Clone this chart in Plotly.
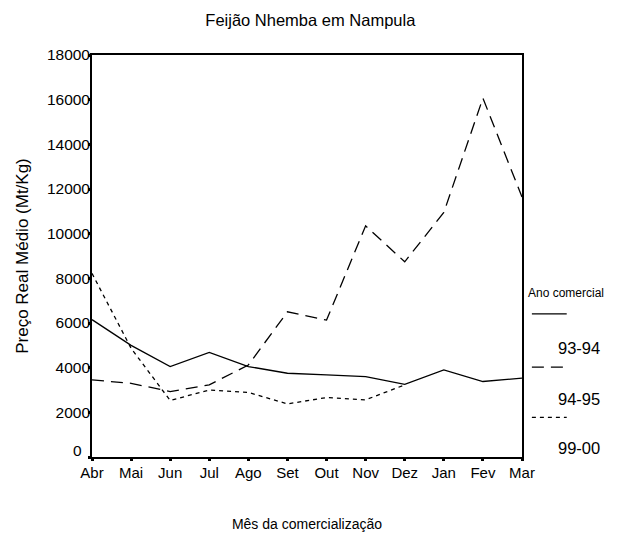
import plotly.graph_objects as go

months = ["Abr", "Mai", "Jun", "Jul", "Ago", "Set", "Out", "Nov", "Dez", "Jan", "Fev", "Mar"]
s_9394 = [6150, 5000, 4050, 4680, 4050, 3750, 3680, 3600, 3250, 3900, 3380, 3530]
s_9495 = [3450, 3300, 2930, 3230, 4120, 6500, 6130, 10350, 8740, 10950, 16070, 11640]
s_9900 = [8220, 4870, 2530, 3000, 2890, 2380, 2660, 2560, 3230, None, None, None]
series_names = ["93-94", "94-95", "99-00"]
y_ticks = [0, 2000, 4000, 6000, 8000, 10000, 12000, 14000, 16000, 18000]

FONT = "Liberation Sans, Arial, sans-serif"
dashes = ["solid", "12px,7px", "4px,4px"]

fig = go.Figure()
for name, vals, d in zip(series_names, [s_9394, s_9495, s_9900], dashes):
    fig.add_trace(go.Scatter(
        x=months, y=vals, mode="lines", name=name,
        line=dict(color="black", width=1.3, dash=d),
        connectgaps=False, showlegend=False,
    ))

W, H = 617, 534  # page body has an 8px margin inside the 625x542 window
fig.update_layout(
    width=W, height=H,
    margin=dict(l=84, r=103, t=47, b=85, autoexpand=False),
    paper_bgcolor="white", plot_bgcolor="white",
    font=dict(family=FONT, color="black", size=14),
    title=dict(text="Feijão Nhemba em Nampula", x=0.49, xanchor="center", automargin=False,
               yref="container", y=1 - 12 / H, yanchor="middle", font=dict(size=16.5)),
)
fig.update_xaxes(
    type="category", range=[0, 11], showgrid=False, zeroline=False, automargin=False,
    showline=True, linecolor="black", linewidth=1.8, mirror=True,
    ticks="outside", ticklen=2, tickwidth=3, tickcolor="black",
    tickfont=dict(size=15), ticklabelstandoff=-1,
    title=dict(text="Mês da comercialização", font=dict(size=14), standoff=39),
)
fig.update_yaxes(
    range=[0, 18000], tickvals=y_ticks,
    ticktext=["" if v == 0 else str(v) for v in y_ticks],
    showgrid=False, zeroline=False, automargin=False,
    showline=True, linecolor="black", linewidth=1.8, mirror=True,
    ticks="outside", ticklen=2, tickwidth=3, tickcolor="black",
    tickfont=dict(size=15.5), ticklabelstandoff=-5,
    title=dict(text="Preço Real Médio (Mt/Kg)", font=dict(size=17), standoff=14),
)
# the zero label sits slightly above its tick in the reference
fig.add_annotation(text=str(y_ticks[0]), xref="paper", yref="y", x=0, y=y_ticks[0],
                   xanchor="right", yanchor="middle", xshift=-8, yshift=7,
                   showarrow=False, font=dict(size=15.5))

# custom legend (sample line above label, as in reference)
fig.add_annotation(text="Ano comercial", xref="paper", yref="paper", x=1.009, y=0.408,
                   xanchor="left", yanchor="middle", showarrow=False, font=dict(size=12))
legend_rows = [(0.356, 0.2715), (0.2235, 0.1448), (0.0984, 0.0224)]
for name, d, (ly, ty) in zip(series_names, dashes, legend_rows):
    fig.add_shape(type="line", xref="paper", yref="paper", x0=1.023, x1=1.104, y0=ly, y1=ly,
                  line=dict(color="black", width=1.3, dash=d))
    fig.add_annotation(text=name, xref="paper", yref="paper", x=1.078, y=ty,
                       xanchor="left", yanchor="middle", showarrow=False, font=dict(size=16.5))

fig.write_html("out.html")
